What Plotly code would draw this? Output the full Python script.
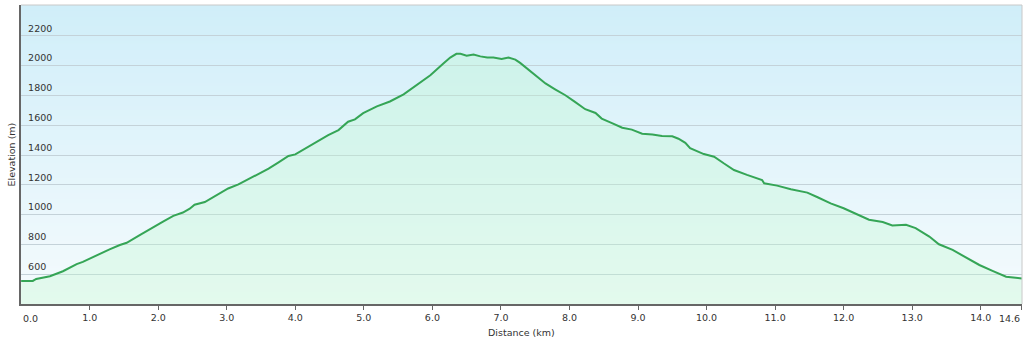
import plotly.graph_objects as go

distance_km = [0.00, 0.17, 0.22, 0.42, 0.61, 0.81, 0.90, 1.10, 1.29, 1.44, 1.54, 1.73, 1.93,
               2.07, 2.22, 2.36, 2.46, 2.53, 2.68, 2.83, 3.02, 3.17, 3.31, 3.46, 3.61, 3.75,
               3.90, 4.00, 4.14, 4.34, 4.48, 4.63, 4.77, 4.87, 4.99, 5.19, 5.38, 5.58, 5.77,
               5.97, 6.16, 6.26, 6.35, 6.41, 6.50, 6.60, 6.70, 6.80, 6.89, 7.01, 7.11, 7.21,
               7.28, 7.35, 7.50, 7.65, 7.79, 7.94, 8.08, 8.23, 8.38, 8.47, 8.62, 8.77, 8.91,
               9.06, 9.21, 9.35, 9.50, 9.59, 9.69, 9.76, 9.96, 10.11, 10.25, 10.40, 10.59,
               10.81, 10.84, 11.03, 11.23, 11.47, 11.62, 11.81, 12.00, 12.22, 12.37, 12.57,
               12.71, 12.91, 13.05, 13.25, 13.39, 13.59, 13.78, 13.98, 14.18, 14.37, 14.51, 14.60]
elevation_m = [555, 555, 568, 586, 620, 668, 683, 728, 767, 796, 811, 863, 913,
               953, 992, 1014, 1040, 1067, 1085, 1124, 1176, 1203, 1236, 1275, 1309, 1349,
               1394, 1405, 1444, 1495, 1534, 1568, 1624, 1640, 1682, 1727, 1760, 1808, 1868,
               1936, 2015, 2055, 2080, 2080, 2068, 2075, 2063, 2055, 2055, 2046, 2055, 2041,
               2019, 1993, 1937, 1881, 1842, 1802, 1757, 1708, 1683, 1645, 1615, 1584, 1571,
               1544, 1539, 1528, 1526, 1510, 1482, 1446, 1407, 1389, 1345, 1300, 1267,
               1233, 1211, 1195, 1171, 1148, 1117, 1076, 1043, 1000, 966, 951,
               928, 932, 910, 853, 801, 763, 711, 662, 621, 583, 576, 572]

x_tick_vals = [0, 1, 2, 3, 4, 5, 6, 7, 8, 9, 10, 11, 12, 13, 14, 14.6]
x_tick_text = ["0.0", "1.0", "2.0", "3.0", "4.0", "5.0", "6.0", "7.0", "8.0", "9.0",
               "10.0", "11.0", "12.0", "13.0", "14.0", "14.6"]
y_tick_vals = [600, 800, 1000, 1200, 1400, 1600, 1800, 2000, 2200]

Y_MIN, Y_MAX = 400, 2408
X_MIN, X_MAX = -0.002, 14.602

fig = go.Figure()

fig.add_trace(go.Scatter(
    x=distance_km, y=elevation_m, mode="lines", fill="tozeroy",
    fillcolor="rgba(190,248,205,0.32)",
    line=dict(color="#35a556", width=2),
    hoverinfo="x+y", showlegend=False,
))

# vertical background gradient (light blue at top, near white at bottom);
# each band reaches to the top so that no seams show between bands
shapes = []
n = 100
top = (208, 238, 249)
bot = (245, 251, 253)
for i in range(n):
    t = i / (n - 1)
    c = tuple(round(bot[k] + (top[k] - bot[k]) * t) for k in range(3))
    y0 = Y_MIN + (Y_MAX - Y_MIN) * i / n
    shapes.append(dict(type="rect", xref="paper", yref="y", x0=0, x1=1, y0=y0, y1=Y_MAX,
                       fillcolor="rgb(%d,%d,%d)" % c, line=dict(width=0), layer="below"))
# light border top/right
shapes.append(dict(type="line", xref="paper", yref="paper", x0=0, x1=1, y0=1, y1=1,
                   line=dict(color="#c8c8c8", width=1), layer="above"))
shapes.append(dict(type="line", xref="paper", yref="paper", x0=1, x1=1, y0=0, y1=1,
                   line=dict(color="#c8c8c8", width=1), layer="above"))

font = dict(family="DejaVu Sans, Verdana, sans-serif", size=9.5, color="#333333")

# first and last distance labels are aligned to the plot edges, as in the reference
axis_text = [""] + x_tick_text[1:-1] + [""]

fig.update_layout(
    width=1024, height=339,
    margin=dict(l=21, r=2, t=5, b=35, autoexpand=False),
    paper_bgcolor="white", plot_bgcolor="white",
    font=font,
    shapes=shapes,
    xaxis=dict(
        range=[X_MIN, X_MAX], tickvals=x_tick_vals, ticktext=axis_text,
        showgrid=False, zeroline=False, automargin=False,
        showline=True, linecolor="#666666", linewidth=2,
        ticks="outside", ticklen=4, tickcolor="#666666", tickwidth=1,
        tickfont=font, ticklabeloverflow="allow",
    ),
    yaxis=dict(
        range=[Y_MIN, Y_MAX], tickvals=y_tick_vals, automargin=False,
        showgrid=True, gridcolor="#c4d2d9", gridwidth=1, zeroline=False,
        showline=True, linecolor="#666666", linewidth=2,
        ticks="", ticklabelposition="inside top",
        ticklabelstandoff=5, ticklabelshift=-1,
        tickfont=font,
    ),
    annotations=[
        dict(text=x_tick_text[0], xref="x", yref="paper", x=x_tick_vals[0], y=0,
             yshift=-14, showarrow=False, font=font, xanchor="left", yanchor="middle"),
        dict(text=x_tick_text[-1], xref="x", yref="paper", x=x_tick_vals[-1], y=0,
             yshift=-14, showarrow=False, font=font, xanchor="right", yanchor="middle"),
        dict(text="Distance (km)", xref="paper", yref="paper", x=0.5, y=0,
             yshift=-28, showarrow=False, font=font, xanchor="center", yanchor="middle"),
        dict(text="Elevation (m)", xref="paper", yref="paper", x=0, y=0.5,
             xshift=-10, showarrow=False, font=font, textangle=-90,
             xanchor="center", yanchor="middle"),
    ],
)

fig.write_html("out.html")
